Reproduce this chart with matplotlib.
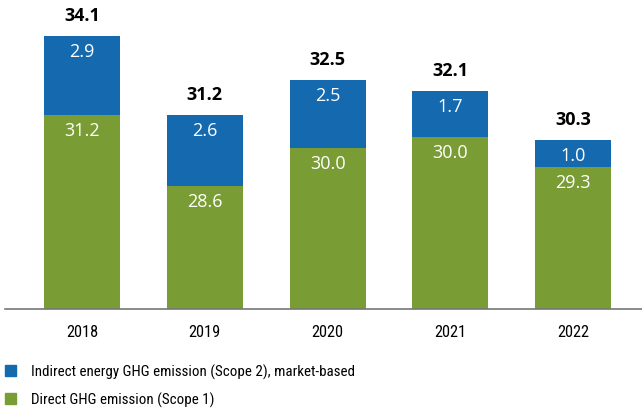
import matplotlib.pyplot as plt
from matplotlib.patches import Patch

years = ["2018", "2019", "2020", "2021", "2022"]
scope1 = [31.2, 28.6, 30.0, 30.4, 29.3]
scope2 = [2.9, 2.6, 2.5, 1.7, 1.0]
scope1_labels = ["31.2", "28.6", "30.0", "30.0", "29.3"]
scope2_labels = ["2.9", "2.6", "2.5", "1.7", "1.0"]
total_labels = ["34.1", "31.2", "32.5", "32.1", "30.3"]

blue = "#1469AF"
green = "#7A9C35"
num_font = ["Open Sans", "DejaVu Sans"]
cond_font = ["Roboto Condensed", "Liberation Sans Narrow", "Roboto", "DejaVu Sans"]

fig = plt.figure(figsize=(6.42, 4.14), dpi=100)
ax = fig.add_axes([5 / 642, 104 / 414, 637 / 642, 310 / 414])

x = list(range(len(years)))
base = 24.1
ax.bar(x, [s - base for s in scope1], bottom=base, width=0.62, color=green)
ax.bar(x, scope2, bottom=scope1, width=0.62, color=blue)

for i in x:
    top1 = scope1[i]
    top2 = scope1[i] + scope2[i]
    ax.annotate(scope1_labels[i], (i, top1), xytext=(0, -15), textcoords="offset pixels",
                ha="center", va="center", color="white", fontsize=13, family=num_font)
    ax.annotate(scope2_labels[i], (i, top2), xytext=(0, -15), textcoords="offset pixels",
                ha="center", va="center", color="white", fontsize=13, family=num_font)
    ax.annotate(total_labels[i], (i, top2), xytext=(0, 21), textcoords="offset pixels",
                ha="center", va="center", color="black", fontsize=13, fontweight="bold",
                family=num_font)

ax.set_ylim(base, base + 310 / 27.3)
ax.set_xlim(-0.627, 4.56)
ax.set_yticks([])
ax.set_xticks(x)
ax.set_xticklabels(years, family=cond_font, fontsize=11.8)
ax.tick_params(axis="x", length=0, pad=11)
for side in ["top", "right", "left"]:
    ax.spines[side].set_visible(False)
ax.spines["bottom"].set_color("#777777")
ax.spines["bottom"].set_linewidth(1.2)

handles = [Patch(color=blue, label="Indirect energy GHG emission (Scope 2), market-based"),
           Patch(color=green, label="Direct GHG emission (Scope 1)")]
fig.legend(handles=handles, loc="upper left", bbox_to_anchor=(5 / 642, 49 / 414),
           frameon=False, prop={"family": cond_font, "size": 10.8},
           handlelength=0.76, handleheight=0.76, handletextpad=0.95,
           labelspacing=0.85, borderaxespad=0, borderpad=0)

fig.savefig("out.png", dpi=100)
